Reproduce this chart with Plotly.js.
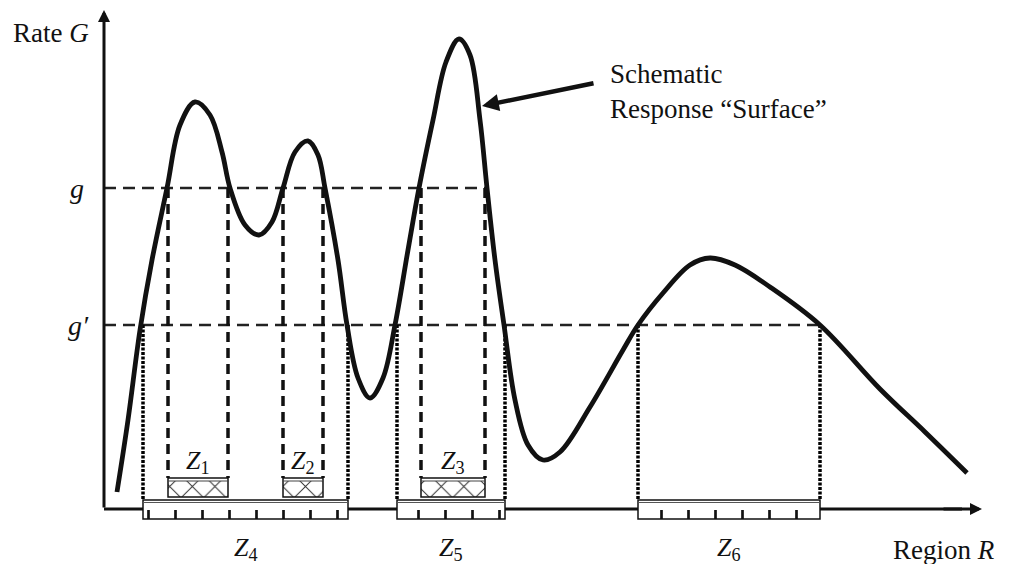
<!DOCTYPE html>
<html>
<head>
<meta charset="utf-8">
<script src="https://cdn.plot.ly/plotly-3.0.1.min.js"></script>
<style>html,body{margin:0;padding:0;background:#fff;}#chart{width:1010px;height:564px;}</style>
</head>
<body>
<div id="chart"></div>
<script>
// Schematic response surface: Region R (horizontal) vs Rate G (vertical)
const regionR = [13, 24, 36, 48, 63, 76, 91, 106, 118, 126, 141, 155, 168, 179, 191, 204, 214, 221, 234, 243, 254, 266, 279, 291, 304, 315, 329, 342, 355, 366, 376, 383, 391, 400, 411, 424, 439, 456, 486, 519, 534, 559, 586, 606, 631, 666, 716, 776, 821, 863];
const rateG   = [17, 89, 179, 249, 321, 384, 407, 394, 357, 321, 284, 274, 287, 321, 357, 368, 354, 321, 249, 184, 131, 111, 131, 184, 259, 321, 389, 447, 470, 454, 389, 321, 249, 184, 109, 64, 49, 57, 102, 159, 184, 216, 244, 251, 244, 222, 184, 120, 77, 36];

const levelG = 321;       // g
const levelGprime = 184;  // g'

const innerZones = ['1', '2', '3'];
const innerLeft  = [64, 179, 317];
const innerRight = [124, 219, 381];

const outerZones = ['4', '5', '6'];
const outerLeft  = [39, 293, 534];
const outerRight = [244, 401, 716];

const axisRMax = 878;
const axisGMax = 499;

// ---- styling constants (not data) ----
const FONT = 'Liberation Serif';
const INK = '#111';
const innerBox = {bottom: 12, top: 31};
const outerBox = {bottom: -10, top: 9};

const traces = [];

// horizontal threshold lines
traces.push({x: [0, Math.max(...innerRight) + 4], y: [levelG, levelG], mode: 'lines',
  line: {color: '#222', width: 2.5, dash: '12px,7px'}, hoverinfo: 'skip'});
traces.push({x: [0, Math.max(...outerRight)], y: [levelGprime, levelGprime], mode: 'lines',
  line: {color: '#222', width: 2.5, dash: '12px,7px'}, hoverinfo: 'skip'});

// vertical dashed lines (g level)
{
  const xs = [], ys = [];
  innerLeft.forEach((l, i) => {
    [l, innerRight[i]].forEach(e => { xs.push(e, e, null); ys.push(levelG, innerBox.top, null); });
  });
  traces.push({x: xs, y: ys, mode: 'lines', line: {color: '#111', width: 3.5, dash: '10px,6px'}, hoverinfo: 'skip'});
}
// vertical dotted lines (g' level)
{
  const xs = [], ys = [];
  outerLeft.forEach((l, i) => {
    [l, outerRight[i]].forEach(e => { xs.push(e, e, null); ys.push(levelGprime, outerBox.top, null); });
  });
  traces.push({x: xs, y: ys, mode: 'lines', line: {color: '#000', width: 3.5, dash: '3px,1.5px'}, hoverinfo: 'skip'});
}

// response curve
traces.push({x: regionR, y: rateG, mode: 'lines', line: {color: INK, width: 4.8, shape: 'spline', smoothing: 1}, hoverinfo: 'skip'});

// outer bands (white base)
const oc = outerLeft.map((l, i) => (l + outerRight[i]) / 2);
const ow = outerLeft.map((l, i) => outerRight[i] - l);
traces.push({type: 'bar', x: oc, width: ow, base: outerLeft.map(() => outerBox.bottom),
  y: outerLeft.map(() => outerBox.top - outerBox.bottom), marker: {color: '#fff', line: {width: 0}}, hoverinfo: 'skip'});
// tick pattern (lower part)
traces.push({type: 'bar', x: oc, width: ow, base: outerLeft.map(() => outerBox.bottom),
  y: outerLeft.map(() => 9), marker: {color: 'rgba(0,0,0,0)', line: {width: 0},
  pattern: {shape: '|', size: 27, solidity: 0.1, fgcolor: '#111', bgcolor: 'rgba(0,0,0,0)'}}, hoverinfo: 'skip'});
// dot pattern (upper part)
traces.push({type: 'bar', x: oc, width: ow, base: outerLeft.map(() => 0),
  y: outerLeft.map(() => 5), marker: {color: 'rgba(0,0,0,0)', line: {width: 0},
  pattern: {shape: '.', size: 13, solidity: 0.15, fgcolor: '#222', bgcolor: 'rgba(0,0,0,0)'}}, hoverinfo: 'skip'});

// inner boxes
const ic = innerLeft.map((l, i) => (l + innerRight[i]) / 2);
const iw = innerLeft.map((l, i) => innerRight[i] - l);
traces.push({type: 'bar', x: ic, width: iw, base: innerLeft.map(() => innerBox.bottom),
  y: innerLeft.map(() => innerBox.top - innerBox.bottom - 3), marker: {color: '#fff', line: {width: 0},
  pattern: {shape: 'x', size: 16, solidity: 0.12, fgcolor: '#333', bgcolor: '#fff'}}, hoverinfo: 'skip'});

// shapes: axis line (below), box outlines (above)
const shapes = [];
shapes.push({type: 'line', xref: 'x', yref: 'y', x0: 0, x1: axisRMax - 20, y0: 0, y1: 0, layer: 'below', line: {color: INK, width: 3}});
outerLeft.forEach((l, i) => {
  shapes.push({type: 'rect', xref: 'x', yref: 'y', x0: l, x1: outerRight[i], y0: outerBox.bottom, y1: outerBox.top, layer: 'above', line: {color: INK, width: 1.5}});
  shapes.push({type: 'line', xref: 'x', yref: 'y', x0: l, x1: outerRight[i], y0: outerBox.top - 2.5, y1: outerBox.top - 2.5, layer: 'above', line: {color: '#555', width: 1}});
});
innerLeft.forEach((l, i) => {
  shapes.push({type: 'rect', xref: 'x', yref: 'y', x0: l, x1: innerRight[i], y0: innerBox.bottom, y1: innerBox.top, layer: 'above', line: {color: INK, width: 1.5}});
  shapes.push({type: 'line', xref: 'x', yref: 'y', x0: l, x1: innerRight[i], y0: innerBox.top - 3, y1: innerBox.top - 3, layer: 'above', line: {color: '#444', width: 1}});
});

// annotations
const ann = [];
// y axis arrow
ann.push({x: 0, y: axisGMax, ax: 0, ay: 0, xref: 'x', yref: 'y', axref: 'x', ayref: 'y', text: '', showarrow: true,
  arrowhead: 2, arrowsize: 0.8, arrowwidth: 3, arrowcolor: INK});
// x axis arrowhead
ann.push({x: axisRMax, y: 0, ax: axisRMax - 40, ay: 0, xref: 'x', yref: 'y', axref: 'x', ayref: 'y', text: '', showarrow: true,
  arrowhead: 2, arrowsize: 0.8, arrowwidth: 3, arrowcolor: INK});
// callout arrow
ann.push({x: 378, y: 403, ax: 491, ay: 426, xref: 'x', yref: 'y', axref: 'x', ayref: 'y', text: '', showarrow: true,
  arrowhead: 2, arrowsize: 0.75, arrowwidth: 4.5, arrowcolor: INK});
ann.push({x: 504, y: 418, xref: 'x', yref: 'y', xanchor: 'left', yanchor: 'middle', align: 'left', showarrow: false,
  text: 'Schematic<br>Response \u201cSurface\u201d', font: {family: FONT, size: 27, color: INK}});

// axis titles
ann.push({x: -53, y: 476, xref: 'x', yref: 'y', xanchor: 'center', yanchor: 'middle', showarrow: false,
  text: 'Rate <i>G</i>', font: {family: FONT, size: 27, color: INK}});
ann.push({x: 893, y: -41, xref: 'x', yref: 'y', xanchor: 'right', yanchor: 'middle', showarrow: false,
  text: 'Region <i>R</i>', font: {family: FONT, size: 27, color: INK}});

// level labels
ann.push({x: -27, y: levelG, xref: 'x', yref: 'y', xanchor: 'center', yanchor: 'middle', showarrow: false,
  text: '<i>g</i>', font: {family: FONT, size: 28, color: INK}});
ann.push({x: -26, y: levelGprime, xref: 'x', yref: 'y', xanchor: 'center', yanchor: 'middle', showarrow: false,
  text: '<i>g\u2032</i>', font: {family: FONT, size: 28, color: INK}});

// zone labels
innerZones.forEach((z, i) => {
  ann.push({x: ic[i], y: 47, xref: 'x', yref: 'y', xanchor: 'center', yanchor: 'middle', showarrow: false,
    text: '<i>Z</i><sub>' + z + '</sub>', font: {family: FONT, size: 26, color: INK}});
});
outerZones.forEach((z, i) => {
  ann.push({x: oc[i], y: -40, xref: 'x', yref: 'y', xanchor: 'center', yanchor: 'middle', showarrow: false,
    text: '<i>Z</i><sub>' + z + '</sub>', font: {family: FONT, size: 26, color: INK}});
});

const layout = {
  width: 1010, height: 564,
  margin: {l: 0, r: 0, t: 0, b: 0, pad: 0},
  paper_bgcolor: '#fff', plot_bgcolor: '#fff',
  showlegend: false,
  barmode: 'overlay',
  font: {family: FONT},
  xaxis: {range: [-104, 906], visible: false, fixedrange: true},
  yaxis: {range: [-55, 509], visible: false, fixedrange: true},
  shapes: shapes,
  annotations: ann
};

Plotly.newPlot('chart', traces, layout, {displayModeBar: false, staticPlot: true});
</script>
</body>
</html>
